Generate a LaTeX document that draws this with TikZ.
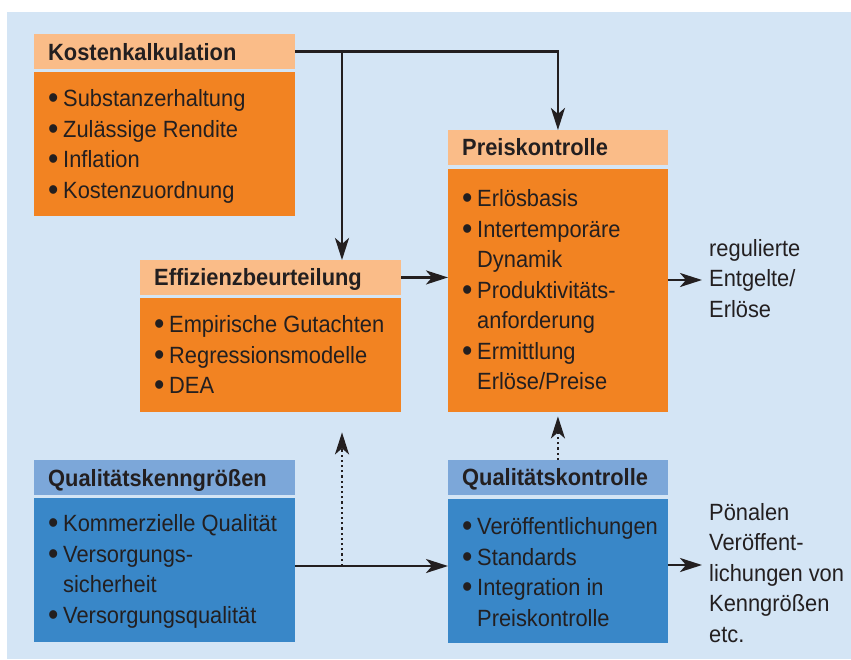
\documentclass[tikz,border=0pt]{standalone}
\usepackage{fontspec}
\usepackage{graphicx}
\setmainfont{Liberation Sans}[FakeStretch=0.93]
\usetikzlibrary{arrows.meta}
\definecolor{bgblue}{RGB}{212,229,245}
\definecolor{hdrorange}{RGB}{250,188,136}
\definecolor{bodyorange}{RGB}{242,131,34}
\definecolor{hdrblue}{RGB}{124,167,217}
\definecolor{bodyblue}{RGB}{57,135,200}
\definecolor{ink}{RGB}{35,31,32}
\newcommand{\itm}{\makebox[15pt][l]{\raisebox{-2.2pt}{\scalebox{1.35}{\textbullet}}}}
\newcommand{\ind}{\makebox[15pt][l]{}}
\newcommand{\lst}[1]{\begin{tabular}{@{}l@{}}#1\end{tabular}}
\begin{document}
\begin{tikzpicture}[x=1pt,y=-1pt,
  hdr/.style={anchor=north west, inner xsep=14pt, inner ysep=0pt,
    text height=17pt, text depth=0pt, align=left,
    font=\fontsize{23.5}{26}\selectfont\bfseries, text=ink},
  bodybox/.style={anchor=north west, inner sep=0pt},
  lstnode/.style={anchor=north west, inner sep=0pt, text=ink,
    font=\fontsize{23.5}{30.5}\selectfont},
  arr/.style={draw=ink, line width=2.7pt, -{Stealth[length=22pt,width=14pt,inset=6pt]}},
  dotarr/.style={draw=ink, line width=2.2pt, dash pattern=on 2.2pt off 3pt,
    -{Stealth[length=22pt,width=14pt,inset=6pt]}}]
\path[use as bounding box] (0,0) rectangle (851,659);
\fill[white] (0,0) rectangle (851,659);
\fill[bgblue] (7,12) rectangle (851,659);

% Kostenkalkulation
\node[hdr, fill=hdrorange, text width=233pt, minimum height=35pt] (kh) at (34,34) {Kostenkalkulation};
\node[bodybox, fill=bodyorange, minimum width=261pt, minimum height=143.5pt] (kb) at (34,72) {};
\node[lstnode] (kl) at ([xshift=14pt,yshift=-13pt]kb.north west)
  {\lst{\itm Substanzerhaltung\\ \itm Zulässige Rendite\\ \itm Inflation\\ \itm Kostenzuordnung}};

% Effizienzbeurteilung
\node[hdr, fill=hdrorange, text width=233pt, minimum height=34.5pt] (eh) at (140,260) {Effizienzbeurteilung};
\node[bodybox, fill=bodyorange, minimum width=261pt, minimum height=114pt] (eb) at (140,298) {};
\node[lstnode] (el) at ([xshift=14pt,yshift=-13pt]eb.north west)
  {\lst{\itm Empirische Gutachten\\ \itm Regressionsmodelle\\ \itm DEA}};

% Preiskontrolle
\node[hdr, fill=hdrorange, text width=191.5pt, minimum height=34.5pt] (ph) at (448,130) {Preiskontrolle};
\node[bodybox, fill=bodyorange, minimum width=219.5pt, minimum height=243pt] (pb) at (448,169) {};
\node[lstnode] (pl) at ([xshift=14pt,yshift=-16pt]pb.north west)
  {\lst{\itm Erlösbasis\\ \itm Intertemporäre\\ \ind Dynamik\\ \itm Produktivitäts-\\ \ind anforderung\\ \itm Ermittlung\\ \ind Erlöse/Preise}};

% Qualitätskenngrößen
\node[hdr, fill=hdrblue, text width=233pt, minimum height=35pt] (qkh) at (34,460) {Qualitätskenngrößen};
\node[bodybox, fill=bodyblue, minimum width=261pt, minimum height=144pt] (qkb) at (34,498) {};
\node[lstnode] (qkl) at ([xshift=14pt,yshift=-12pt]qkb.north west)
  {\lst{\itm Kommerzielle Qualität\\ \itm Versorgungs-\\ \ind sicherheit\\ \itm Versorgungsqualität}};

% Qualitätskontrolle
\node[hdr, fill=hdrblue, text width=191.5pt, minimum height=34.5pt] (qch) at (448,460) {Qualitätskontrolle};
\node[bodybox, fill=bodyblue, minimum width=219.5pt, minimum height=144pt] (qcb) at (448,499) {};
\node[lstnode] (qcl) at ([xshift=14pt,yshift=-14pt]qcb.north west)
  {\lst{\itm Veröffentlichungen\\ \itm Standards\\ \itm Integration in\\ \ind Preiskontrolle}};

% outputs
\node[lstnode] (rt1) at (709,234.5) {\lst{regulierte\\ Entgelte/\\ Erlöse}};
\node[lstnode] (rt2) at (709,498.5) {\lst{Pönalen\\ Veröffent-\\ lichungen von\\ Kenngrößen\\ etc.}};

% connectors
\coordinate (split) at (342,51.5);
\draw[arr] (kh.east) -| (ph.north);
\draw[arr] (split) -- (split |- eh.north);
\draw[arr] (eh.east) -- (eh.east -| pb.west);
\coordinate (pout) at (702,280);
\draw[arr] (pb.east |- pout) -- (pout);
\coordinate (qy) at (342,566);
\draw[arr] (qkb.east |- qy) -- (qy -| qcb.west);
\coordinate (etip) at ([yshift=-20pt]eb.south);
\draw[dotarr] (qy) -- (qy |- etip);
\draw[dotarr] (qch.north) -- ([yshift=-4pt]pb.south);
\coordinate (qout) at (702,565);
\draw[arr] (qcb.east |- qout) -- (qout);
\end{tikzpicture}
\end{document}
